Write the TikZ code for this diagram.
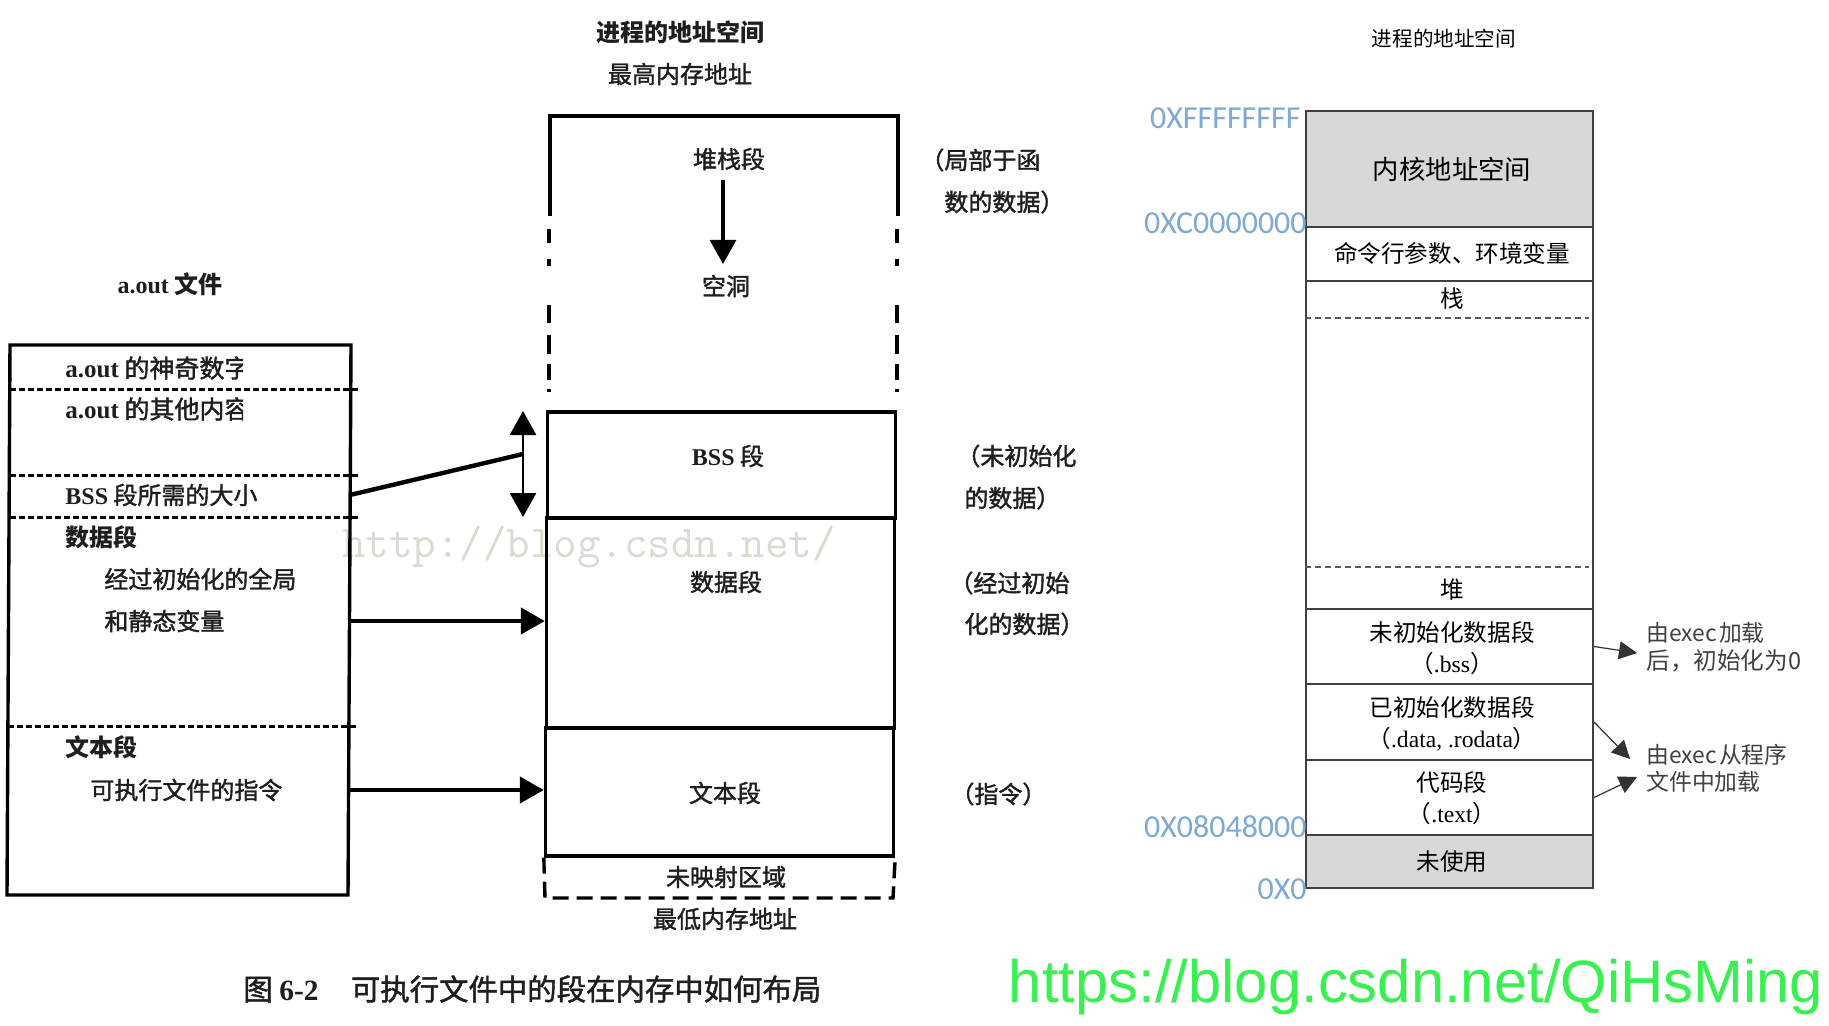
\documentclass[tikz,border=0pt]{standalone}
\usepackage{fontspec}
\setmainfont{Noto Sans CJK SC}
\newfontfamily\scanfont[FakeBold=1.5]{Noto Sans CJK SC}
\newfontfamily\serifpart{Liberation Serif}
\newfontfamily\addrfont{Carlito}
\newfontfamily\urlfont{Liberation Sans}
\usetikzlibrary{arrows.meta}
\definecolor{addrblue}{HTML}{7DA9D3}
\definecolor{kernelgray}{HTML}{D8D8D8}
\definecolor{urlgreen}{HTML}{38F050}
\definecolor{markgray}{HTML}{DADAD2}
\definecolor{inkdark}{HTML}{1E1E1E}
\newcommand{\lat}[1]{{\serifpart #1}}
\newcommand{\scanlat}[1]{{\serifpart\bfseries #1}}
\tikzset{
	scantext/.style={inner sep=0pt, text=inkdark, font=\scanfont\fontsize{12}{14}\selectfont},
	scanbold/.style={inner sep=0pt, text=inkdark, font=\fontsize{12}{14}\selectfont\bfseries},
	scanline/.style={line width=1.7pt, draw=black},
	scandash/.style={line width=1.5pt, dash pattern=on 3pt off 1.5pt},
	bigtip/.style={-{Triangle[width=13pt, length=12pt]}},
	celltext/.style={inner sep=0pt, align=center, text=black, font=\fontsize{11.8}{15.5}\selectfont},
	cell/.style={draw=black!75, line width=1pt, minimum width=143.5pt, inner sep=0pt},
	addr/.style={anchor=east, inner sep=0pt, text=addrblue, font=\addrfont\fontsize{16}{18}\selectfont},
	note/.style={anchor=west, inner sep=0pt, text=black!75, font=\fontsize{11.4}{14}\selectfont},
	smalltip/.style={-{Triangle[width=9pt, length=9pt]}, line width=0.6pt, draw=black!80}
}
\begin{document}
\begin{tikzpicture}[x=0.5pt, y=-0.5pt]
	\useasboundingbox[fill=white] (0,0) rectangle (1829,1026);
	
	% Scan watermark
	\node[inner sep=0pt, text=markgray, font=\ttfamily\fontsize{22.8}{26}\selectfont] (mark) at (589,547) {http://blog.csdn.net/};
	
	% File box
	\coordinate (F1) at (10,345);
	\coordinate (F2) at (351,345);
	\coordinate (F3) at (348,895);
	\coordinate (F4) at (7,895);
	\draw[scanline] (F1) -- (F2) -- (F3) -- (F4) -- cycle;
	\foreach \h/\s in {389/10,475/10,517/10,726/8}
	\draw[scandash] (\s,\h) -- (359,\h);
	\coordinate (fbss) at (350,495);
	\coordinate (fdata) at (350,621);
	\coordinate (ftext) at (349,790);
	
	% File texts
	\node[scanbold] (ftitle) at (170,284) {\lat{a.out} 文件};
	\begin{scope}
		\clip (60,350) rectangle (243,430);
		\node[scantext, anchor=west, font=\scanfont\fontsize{12.5}{14}\selectfont] (fmagic) at (65,368) {\scanlat{a.out} 的神奇数字};
		\node[scantext, anchor=west, font=\scanfont\fontsize{12.5}{14}\selectfont] (fother) at (65,409) {\scanlat{a.out} 的其他内容};
	\end{scope}
	\node[scantext, anchor=west] (fsize) at (65,495) {\scanlat{BSS} 段所需的大小};
	\node[scanbold, anchor=west] (fdatah) at (65,537) {数据段};
	\node[scantext, anchor=west] (fdata1) at (104,579) {经过初始化的全局};
	\node[scantext, anchor=west] (fdata2) at (104,621) {和静态变量};
	\node[scanbold, anchor=west] (ftexth) at (65,747) {文本段};
	\node[scantext, anchor=west] (ftext1) at (90,790) {可执行文件的指令};
	
	% Memory box
	\coordinate (M1) at (550,116);
	\coordinate (M2) at (898,116);
	\coordinate (M3) at (550,216);
	\coordinate (M4) at (898,216);
	\draw[scanline] (M3) -- (M1) -- (M2) -- (M4);
	\foreach \a/\b in {229/243,259/266,305/323,335/354,364/380,389/392}{
		\draw[scanline] (549,\a) -- (549,\b);
		\draw[scanline] (897,\a) -- (897,\b);
	}
	\node[scanline, draw, inner sep=0pt, minimum width=174pt, minimum height=53pt] (mbss) at (721.5,465) {};
	\node[scanline, draw, inner sep=0pt, minimum width=174pt, minimum height=105pt] (mdata) at (720.5,623) {};
	\node[scanline, draw, inner sep=0pt, minimum width=174pt, minimum height=64pt] (mtext) at (719.5,792) {};
	\draw[scanline, dash pattern=on 8pt off 4pt] (mtext.south west) -- (545,898) -- (893,898) -- (mtext.south east);
	
	% Memory texts
	\node[scanbold] (mtitle) at (680,32) {进程的地址空间};
	\node[scantext] (mhigh) at (680,74) {最高内存地址};
	\node[scantext] (mstack) at (729,159) {堆栈段};
	\node[scantext] (mhole) at (726,286) {空洞};
	\node[scantext] (mbsst) at (728,456) {\scanlat{BSS} 段};
	\node[scantext] (mdatat) at (726,582) {数据段};
	\node[scantext] (mtextt) at (725,793) {文本段};
	\node[scantext] (mmap) at (726,877) {未映射区域};
	\node[scantext] (mlow) at (725,919) {最低内存地址};
	\node[scantext, anchor=west] (n1) at (920,160) {（局部于函};
	\node[scantext, anchor=west] (n2) at (944,202) {数的数据）};
	\node[scantext, anchor=west] (n3) at (956,456) {（未初始化};
	\node[scantext, anchor=west] (n4) at (964,498) {的数据）};
	\node[scantext, anchor=west] (n5) at (949,583) {（经过初始};
	\node[scantext, anchor=west] (n6) at (964,624) {化的数据）};
	\node[scantext, anchor=west] (n7) at (950,794) {（指令）};
	\node[scantext, anchor=west, font=\scanfont\fontsize{14.7}{17}\selectfont] (cap) at (243,989) {图 \scanlat{6-2}\hspace{1.1em}可执行文件中的段在内存中如何布局};
	
	% Left arrows
	\coordinate (S1) at (723,180);
	\coordinate (S2) at (723,264);
	\draw[bigtip, line width=1.6pt] (S1) -- (S2);
	\coordinate (B1) at (523,411);
	\coordinate (B2) at (523,517);
	\coordinate (B3) at (523,454);
	\draw[{Triangle[width=13pt, length=12pt]}-{Triangle[width=13pt, length=12pt]}, line width=1.4pt] (B1) -- (B2);
	\draw[line width=2.2pt] (fbss) -- (B3);
	\draw[bigtip, line width=2.2pt] (fdata) -- (mdata.west |- fdata);
	\draw[bigtip, line width=2.2pt] (ftext) -- (mtext.west |- ftext);
	
	% Right column
	\node[cell, fill=kernelgray, minimum height=58pt] (rkernel) at (1449.5,169) {};
	\node[cell, minimum height=27pt] (rargs) at (1449.5,254) {};
	\node[cell, minimum height=164pt, line width=0.8pt] (rgap) at (1449.5,445) {};
	\node[cell, minimum height=37.5pt] (rbss) at (1449.5,646.5) {};
	\node[cell, minimum height=38pt] (rrw) at (1449.5,722) {};
	\node[cell, minimum height=37.5pt] (rcode) at (1449.5,797.5) {};
	\node[cell, fill=kernelgray, minimum height=26.5pt] (rfree) at (1449.5,861.5) {};
	\draw[line width=0.8pt, draw=black!65, dash pattern=on 3pt off 2pt] (rgap.west |- 0,318) -- (1589,318);
	\draw[line width=0.8pt, draw=black!65, dash pattern=on 3pt off 2pt] (rgap.west |- 0,567) -- (1589,567);
	
	% Right column texts
	\node[celltext, font=\fontsize{10.3}{12}\selectfont] (rtitle) at (1444,39) {进程的地址空间};
	\node[celltext, font=\fontsize{13.2}{15}\selectfont] (tkernel) at (1452,169) {内核地址空间};
	\node[celltext] (targs) at (1452,253) {命令行参数、环境变量};
	\node[celltext] (tstack) at (1452,299) {栈};
	\node[celltext] (theap) at (1452,590) {堆};
	\node[celltext] (tbss) at (1452,648) {未初始化数据段\\（\lat{.bss}）};
	\node[celltext] (trw) at (1452,724) {已初始化数据段\\（\lat{.data, .rodata}）};
	\node[celltext] (tcode) at (1452,798) {代码段\\（\lat{.text}）};
	\node[celltext] (tfree) at (1452,862) {未使用};
	
	% Addresses
	\node[addr] (a1) at (1301,118) {0XFFFFFFFF};
	\node[addr] (a2) at (1307,223) {0XC0000000};
	\node[addr] (a3) at (1307,827) {0X08048000};
	\node[addr] (a4) at (1307,889) {0X0};
	
	% Right notes
	\node[note] (r1) at (1646,633) {由exec\hspace{0.1em}加载};
	\node[note, font=\fontsize{11.8}{14}\selectfont] (r2) at (1646,661) {后，初始化为0};
	\node[note] (r3) at (1646,755) {由exec\hspace{0.1em}从程序};
	\node[note] (r4) at (1646,782) {文件中加载};
	\coordinate (T1) at (1637,653);
	\coordinate (T2) at (1630,759);
	\coordinate (T3) at (1637,777);
	\draw[smalltip] (rbss.east) -- (T1);
	\draw[smalltip] (rrw.east) -- (T2);
	\draw[smalltip] (rcode.east) -- (T3);
	
	% Blog address
	\node[inner sep=0pt, text=urlgreen, font=\urlfont\fontsize{29.9}{34}\selectfont] (url) at (1416,987) {https://blog.csdn.net/QiHsMing};
\end{tikzpicture}
\end{document}
